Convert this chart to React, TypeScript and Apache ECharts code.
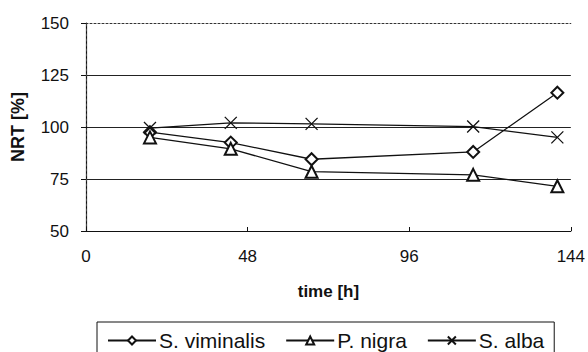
import React, { useEffect, useRef } from "react";
import * as echarts from "echarts";

const times = [19, 43, 67, 115, 140];
const sViminalis = [97.5, 92.5, 84.5, 88, 116.5];
const pNigra = [95, 89.5, 78.5, 77, 71.5];
const sAlba = [99.5, 102, 101.5, 100.2, 95];
const seriesNames = ["S. viminalis", "P. nigra", "S. alba"];
const xTicks = [0, 48, 96, 144];
const yTicks = [50, 75, 100, 125, 150];

const FONT = "'Liberation Sans', Arial, sans-serif";
const X_SYMBOL = "path://M0,0L10,10M10,0L0,10";

export default function App() {
  const ref = useRef<HTMLDivElement>(null);
  useEffect(() => {
    if (!ref.current) return;
    const chart = echarts.init(ref.current, null, { renderer: "svg" });
    const pair = (ys: number[]) => times.map((t, i) => [t, ys[i]]);
    const lineStyle = { color: "#111", width: 1.3 };
    chart.setOption({
      animation: false,
      backgroundColor: "#fff",
      textStyle: { fontFamily: FONT, color: "#111" },
      grid: { left: 86, right: 17, top: 23, bottom: 121, containLabel: false },
      legend: {
        left: 97,
        top: 322,
        orient: "horizontal",
        data: seriesNames,
        itemWidth: 48,
        itemHeight: 10,
        itemGap: 20,
        padding: [8, 10, 12, 10],
        borderColor: "#111",
        borderWidth: 1,
        textStyle: { fontFamily: FONT, fontSize: 21, color: "#111", padding: [0, 0, 0, -2] },
      },
      xAxis: [
        {
          type: "value",
          min: xTicks[0],
          max: xTicks[xTicks.length - 1],
          interval: 48,
          name: "time [h]",
          nameLocation: "middle",
          nameGap: 52,
          nameTextStyle: { fontFamily: FONT, fontSize: 17, fontWeight: "bold", color: "#111" },
          axisLine: { show: true, lineStyle: { color: "#111", width: 1.2 } },
          axisTick: { show: true, inside: true, length: 4, lineStyle: { color: "#111" } },
          axisLabel: { margin: 17, fontSize: 17, fontFamily: FONT, color: "#111" },
          splitLine: { show: false },
        },
        {
          type: "value",
          position: "top",
          min: 0,
          max: 144,
          interval: 48,
          axisLine: { show: true, lineStyle: { color: "#333", width: 1, type: [2, 2] } },
          axisTick: { show: false },
          axisLabel: { show: false },
          splitLine: { show: false },
        },
      ],
      yAxis: [
        {
          type: "value",
          min: yTicks[0],
          max: yTicks[yTicks.length - 1],
          interval: 25,
          name: "NRT [%]",
          nameLocation: "middle",
          nameGap: 59,
          nameRotate: 90,
          nameTextStyle: { fontFamily: FONT, fontSize: 18, fontWeight: "bold", color: "#111" },
          axisLine: { show: true, lineStyle: { color: "#111", width: 1.2 } },
          axisTick: { show: true, length: 5, lineStyle: { color: "#111" } },
          axisLabel: { margin: 17, fontSize: 17, fontFamily: FONT, color: "#111" },
          splitLine: {
            show: true,
            showMaxLine: false,
            showMinLine: true,
            lineStyle: { color: "#222", width: 1.2, type: "solid" },
          },
        },
        {
          type: "value",
          position: "right",
          min: 50,
          max: 150,
          interval: 25,
          axisLine: { show: true, lineStyle: { color: "#444", width: 1, type: [2, 3] } },
          axisTick: { show: false },
          axisLabel: { show: false },
          splitLine: { show: false },
        },
      ],
      series: [
        {
          name: seriesNames[0],
          type: "line",
          data: pair(sViminalis),
          symbol: "emptyDiamond",
          symbolSize: 12,
          lineStyle,
          itemStyle: { color: "#111", borderColor: "#111", borderWidth: 1.3 },
          z: 3,
        },
        {
          name: seriesNames[1],
          type: "line",
          data: pair(pNigra),
          symbol: "emptyTriangle",
          symbolSize: 12,
          lineStyle,
          itemStyle: { color: "#111", borderColor: "#111", borderWidth: 1.3 },
          z: 3,
        },
        {
          name: seriesNames[2],
          type: "line",
          data: pair(sAlba),
          symbol: X_SYMBOL,
          symbolSize: 12,
          lineStyle,
          itemStyle: { color: "#111", borderColor: "#111", borderWidth: 1.3 },
          z: 3,
        },
      ],
    });
    return () => chart.dispose();
  }, []);
  return (
    <div
      ref={ref}
      style={{ position: "fixed", left: 0, top: 0, width: 588, height: 352, background: "#fff" }}
    />
  );
}
